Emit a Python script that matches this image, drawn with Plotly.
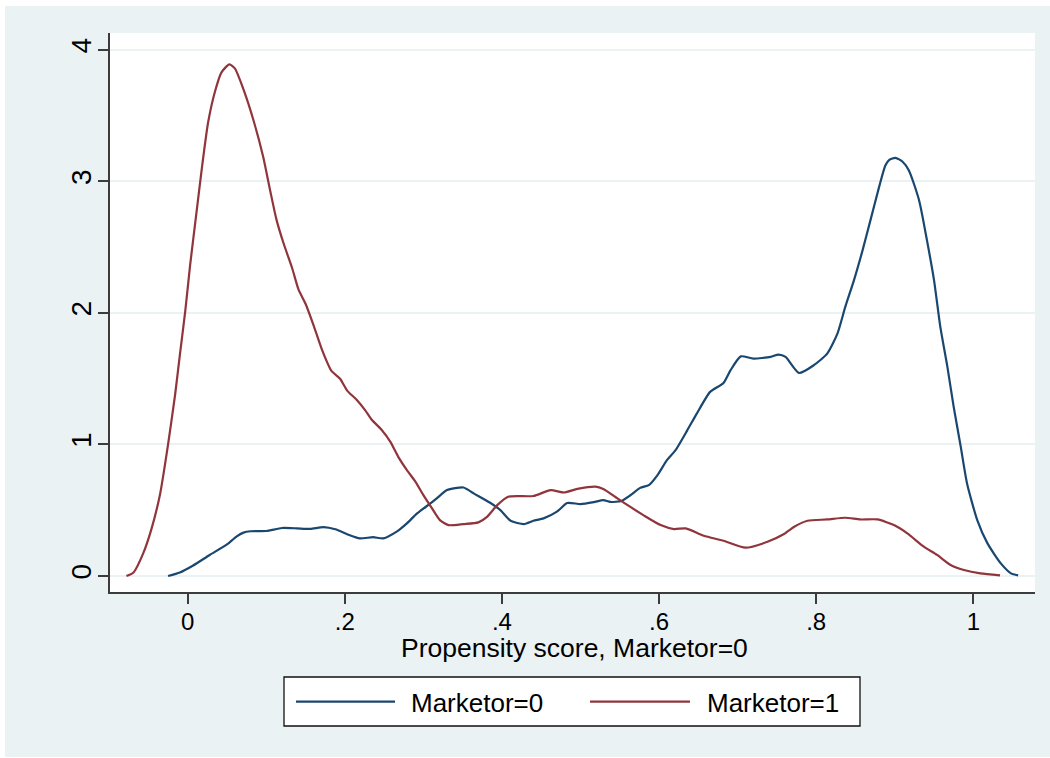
import plotly.graph_objects as go

# Kernel density of the propensity score, by group
x_m0 = [-0.025, -0.010, 0.007, 0.028, 0.050, 0.062, 0.071, 0.080, 0.100, 0.120,
        0.139, 0.156, 0.173, 0.188, 0.203, 0.219, 0.236, 0.249, 0.266, 0.279,
        0.292, 0.309, 0.317, 0.330, 0.351, 0.364, 0.385, 0.398, 0.411, 0.428,
        0.440, 0.453, 0.470, 0.483, 0.500, 0.517, 0.529, 0.538, 0.552, 0.563,
        0.576, 0.587, 0.598, 0.610, 0.621, 0.636, 0.648, 0.665, 0.682, 0.691,
        0.704, 0.720, 0.742, 0.752, 0.761, 0.778, 0.797, 0.814, 0.827, 0.837,
        0.848, 0.859, 0.869, 0.880, 0.888, 0.893, 0.901, 0.910, 0.918, 0.931,
        0.941, 0.950, 0.958, 0.967, 0.975, 0.984, 0.992, 1.005, 1.018, 1.035,
        1.048, 1.057]
dens_m0 = [0.0, 0.027, 0.08, 0.16, 0.24, 0.30, 0.33, 0.34, 0.342, 0.365,
           0.362, 0.358, 0.372, 0.355, 0.318, 0.286, 0.295, 0.286, 0.337, 0.40,
           0.476, 0.552, 0.59, 0.653, 0.673, 0.628, 0.557, 0.501, 0.42, 0.395,
           0.42, 0.438, 0.489, 0.555, 0.547, 0.562, 0.577, 0.563, 0.571, 0.612,
           0.67, 0.691, 0.767, 0.881, 0.957, 1.109, 1.235, 1.40, 1.468, 1.565,
           1.67, 1.653, 1.666, 1.684, 1.666, 1.544, 1.603, 1.691, 1.843, 2.046,
           2.248, 2.476, 2.704, 2.957, 3.122, 3.165, 3.18, 3.15, 3.084, 2.856,
           2.552, 2.248, 1.894, 1.59, 1.286, 0.982, 0.704, 0.425, 0.248, 0.096,
           0.02, 0.005]

x_m1 = [-0.078, -0.069, -0.0565, -0.046, -0.035, -0.025, -0.016, -0.010, -0.003, 0.003,
        0.0115, 0.018, 0.026, 0.035, 0.043, 0.053, 0.060, 0.071, 0.084, 0.096,
        0.105, 0.113, 0.122, 0.133, 0.141, 0.150, 0.160, 0.171, 0.183, 0.194,
        0.203, 0.215, 0.226, 0.234, 0.247, 0.258, 0.268, 0.279, 0.290, 0.300,
        0.311, 0.321, 0.332, 0.351, 0.370, 0.381, 0.394, 0.408, 0.440, 0.462,
        0.479, 0.496, 0.519, 0.529, 0.547, 0.563, 0.580, 0.602, 0.619, 0.634,
        0.657, 0.682, 0.710, 0.738, 0.759, 0.772, 0.789, 0.814, 0.837, 0.856,
        0.878, 0.899, 0.916, 0.937, 0.954, 0.971, 0.988, 1.009, 1.034]
dens_m1 = [0.0, 0.027, 0.174, 0.36, 0.628, 1.0, 1.38, 1.68, 2.02, 2.36,
           2.78, 3.10, 3.45, 3.69, 3.83, 3.89, 3.86, 3.70, 3.46, 3.19,
           2.93, 2.71, 2.53, 2.34, 2.18, 2.07, 1.91, 1.72, 1.56, 1.50,
           1.41, 1.34, 1.26, 1.19, 1.11, 1.02, 0.906, 0.805, 0.716, 0.615,
           0.514, 0.425, 0.387, 0.395, 0.408, 0.45, 0.539, 0.603, 0.608, 0.653,
           0.635, 0.662, 0.68, 0.662, 0.59, 0.527, 0.463, 0.387, 0.357, 0.362,
           0.306, 0.268, 0.215, 0.26, 0.319, 0.375, 0.42, 0.43, 0.443, 0.43,
           0.43, 0.387, 0.324, 0.223, 0.16, 0.084, 0.046, 0.02, 0.005]

series_names = ["Marketor=0", "Marketor=1"]
series_colors = ["#1a476f", "#90353b"]

x_tickvals = [0, 0.2, 0.4, 0.6, 0.8, 1.0]
x_ticktext = ["0", ".2", ".4", ".6", ".8", "1"]
y_tickvals = [0, 1, 2, 3, 4]
y_ticktext = ["0", "1", "2", "3", "4"]
x_title = "Propensity score, Marketor=0"

# figure geometry (pixels)
W, H = 1050, 758
PL, PR, PT, PB = 110, 1035, 33, 592
BG = "#eaf2f3"
FONT = "Liberation Sans, Arial, sans-serif"


def fx(px):
    return (px - PL) / (PR - PL)


def fy(py):
    return (PB - py) / (PB - PT)


fig = go.Figure()
for xs, ys, name, col in [(x_m0, dens_m0, series_names[0], series_colors[0]),
                          (x_m1, dens_m1, series_names[1], series_colors[1])]:
    fig.add_trace(go.Scatter(x=xs, y=ys, mode="lines", name=name,
                             line=dict(color=col, width=2.2, shape="spline", smoothing=0.6),
                             showlegend=False))

shapes = [
    # outer graph region
    dict(type="rect", xref="paper", yref="paper", x0=fx(5), x1=fx(1050), y0=fy(757), y1=fy(6),
         fillcolor=BG, line=dict(width=0), layer="below"),
    # plot region
    dict(type="rect", xref="paper", yref="paper", x0=0, x1=1, y0=0, y1=1,
         fillcolor="white", line=dict(width=0), layer="below"),
    # legend box
    dict(type="rect", xref="paper", yref="paper", x0=fx(284), x1=fx(860), y0=fy(726), y1=fy(677),
         fillcolor="white", line=dict(color="#111111", width=1.3), layer="above"),
]
legend_y = 701.7
for (lx0, lx1), col in zip([(296, 395), (590, 690)], series_colors):
    shapes.append(dict(type="line", xref="paper", yref="paper", x0=fx(lx0), x1=fx(lx1),
                       y0=fy(legend_y), y1=fy(legend_y), line=dict(color=col, width=2.2)))

annotations = [
    dict(text=x_title, xref="paper", yref="paper", x=fx(574), y=fy(648), xanchor="center",
         yanchor="middle", showarrow=False, font=dict(family=FONT, size=26.5, color="black")),
]
for tx, name in zip([409, 705], series_names):
    annotations.append(dict(text=name, xref="paper", yref="paper", x=fx(tx), y=fy(legend_y + 1),
                            xanchor="left", yanchor="middle", showarrow=False,
                            font=dict(family=FONT, size=26, color="black")))

fig.update_layout(
    width=W, height=H, autosize=False,
    margin=dict(l=PL, r=W - PR, t=PT, b=H - PB, pad=0),
    paper_bgcolor="white", plot_bgcolor="white",
    font=dict(family=FONT, color="black"),
    shapes=shapes, annotations=annotations,
    showlegend=False,
)
fig.update_xaxes(
    range=[-0.0989, 1.0785], showgrid=False, zeroline=False,
    showline=True, linecolor="#3c3c3c", linewidth=1.6,
    ticks="outside", ticklen=10, tickwidth=1.6, tickcolor="#3c3c3c",
    tickvals=x_tickvals, ticktext=x_ticktext,
    tickfont=dict(family=FONT, size=24, color="black"), ticklabelstandoff=-3,
)
fig.update_yaxes(
    range=[-0.1217, 4.129], showgrid=True, gridcolor=BG, gridwidth=2, zeroline=False,
    showline=True, linecolor="#3c3c3c", linewidth=1.6,
    ticks="outside", ticklen=10, tickwidth=1.6, tickcolor="#3c3c3c",
    tickvals=y_tickvals, ticktext=y_ticktext, tickangle=-90,
    tickfont=dict(family=FONT, size=28, color="black"), ticklabelstandoff=-4,
)

fig.write_html("out.html")
